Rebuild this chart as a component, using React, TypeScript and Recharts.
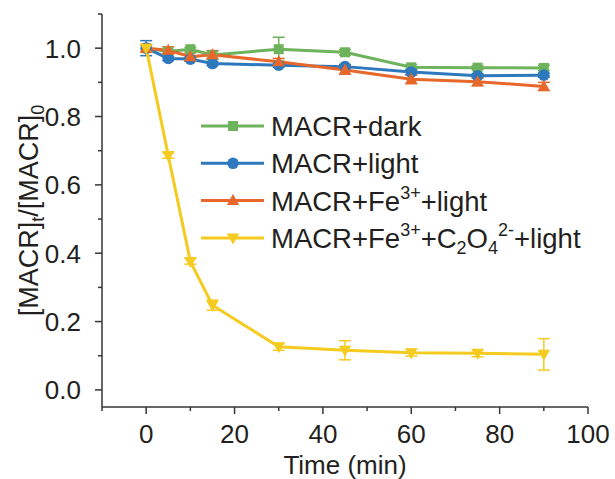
import React from 'react';
import { LineChart, Line, XAxis, YAxis, ErrorBar, Legend } from 'recharts';

const time = [0, 5, 10, 15, 30, 45, 60, 75, 90];
const dark = [1.0, 0.99, 0.997, 0.98, 0.997, 0.988, 0.944, 0.943, 0.942];
const darkErr = [0.01, 0.005, 0.005, 0.012, 0.035, 0.008, 0.008, 0.006, 0.008];
const light = [1.0, 0.97, 0.968, 0.955, 0.95, 0.946, 0.93, 0.919, 0.921];
const lightErr = [0.022, 0.006, 0.006, 0.006, 0.006, 0.006, 0.008, 0.006, 0.006];
const fe = [1.0, 0.994, 0.975, 0.981, 0.96, 0.936, 0.909, 0.902, 0.888];
const feErr = [0.01, 0.01, 0.012, 0.012, 0.01, 0.012, 0.013, 0.012, 0.012];
const feOx = [1.0, 0.686, 0.376, 0.248, 0.126, 0.116, 0.109, 0.107, 0.104];
const feOxErr = [0.01, 0.008, 0.008, 0.015, 0.01, 0.028, 0.01, 0.01, 0.046];

const xTicks = [-10, 0, 10, 20, 30, 40, 50, 60, 70, 80, 90, 100];
const yTicks = [0, 0.1, 0.2, 0.3, 0.4, 0.5, 0.6, 0.7, 0.8, 0.9, 1.0, 1.1];

const GREEN = '#6db35b';
const BLUE = '#2e78bd';
const ORANGE = '#e8672a';
const YELLOW = '#f5cb1f';
const INK = '#231f20';
const AXIS = '#3a3535';
const FONT = '"Liberation Sans", Arial, Helvetica, sans-serif';

const data = time.map((t, i) => ({
  t,
  dark: dark[i], darkErr: darkErr[i],
  light: light[i], lightErr: lightErr[i],
  fe: fe[i], feErr: feErr[i],
  feOx: feOx[i], feOxErr: feOxErr[i],
}));

type Shape = 'square' | 'circle' | 'tri' | 'itri';

const Marker = ({ cx, cy, shape, color }: { cx: number; cy: number; shape: Shape; color: string }) => {
  if (cx == null || cy == null) return null;
  if (shape === 'square') return <rect x={cx - 5} y={cy - 5} width={10} height={10} fill={color} />;
  if (shape === 'circle') return <circle cx={cx} cy={cy} r={5.8} fill={color} />;
  if (shape === 'tri')
    return <polygon points={`${cx},${cy - 6.5} ${cx + 6.2},${cy + 4.5} ${cx - 6.2},${cy + 4.5}`} fill={color} />;
  return <polygon points={`${cx},${cy + 6.5} ${cx + 6.2},${cy - 4.5} ${cx - 6.2},${cy - 4.5}`} fill={color} />;
};

const makeDot = (shape: Shape, color: string) => (p: any) => (
  <Marker key={`${shape}-${p.index}`} cx={p.cx} cy={p.cy} shape={shape} color={color} />
);

const SUP = 18;

const legendItems: { shape: Shape; color: string; label: React.ReactNode }[] = [
  { shape: 'square', color: GREEN, label: <tspan>MACR+dark</tspan> },
  { shape: 'circle', color: BLUE, label: <tspan>MACR+light</tspan> },
  {
    shape: 'tri',
    color: ORANGE,
    label: (
      <>
        <tspan>MACR+Fe</tspan>
        <tspan fontSize={SUP} dy={-12}>3+</tspan>
        <tspan dy={12}>+light</tspan>
      </>
    ),
  },
  {
    shape: 'itri',
    color: YELLOW,
    label: (
      <>
        <tspan>MACR+Fe</tspan>
        <tspan fontSize={SUP} dy={-12}>3+</tspan>
        <tspan dy={12}>+C</tspan>
        <tspan fontSize={SUP} dy={6}>2</tspan>
        <tspan dy={-6}>O</tspan>
        <tspan fontSize={SUP} dy={6}>4</tspan>
        <tspan fontSize={SUP} dy={-18}>2-</tspan>
        <tspan dy={12}>+light</tspan>
      </>
    ),
  },
];

const LegendContent = () => (
  <svg width={400} height={150} style={{ display: 'block', overflow: 'visible' }}>
    {legendItems.map((it, i) => {
      const cy = 21 + i * 37.3;
      return (
        <g key={i}>
          <line x1={6} x2={69} y1={cy} y2={cy} stroke={it.color} strokeWidth={3} />
          <Marker cx={38} cy={cy} shape={it.shape} color={it.color} />
          <text x={76} y={cy + 10} fontSize={27.5} fill={INK} fontFamily={FONT}>
            {it.label}
          </text>
        </g>
      );
    })}
  </svg>
);

const XTick = (p: any) => {
  const v = p.payload.value;
  const major = v >= 0 && v % 20 === 0;
  return (
    <g>
      <line x1={p.x} x2={p.x} y1={p.y} y2={p.y + (major ? 7 : 4)} stroke={AXIS} strokeWidth={1.5} />
      {major && (
        <text x={p.x} y={p.y + 36} textAnchor="middle" fontSize={26} fill={INK} fontFamily={FONT}>
          {v}
        </text>
      )}
    </g>
  );
};

const YTick = (p: any) => {
  const v = p.payload.value;
  const k = Math.round(v * 10);
  const major = k % 2 === 0 && k <= 10;
  return (
    <g>
      <line x1={p.x} x2={p.x - (major ? 7 : 4)} y1={p.y} y2={p.y} stroke={AXIS} strokeWidth={1.5} />
      {major && (
        <text x={p.x - 21} y={p.y + 9.5} textAnchor="end" fontSize={26} fill={INK} fontFamily={FONT}>
          {v.toFixed(1)}
        </text>
      )}
    </g>
  );
};

const YLabel = (p: any) => {
  const vb = p.viewBox || {};
  const cx = (vb.x || 0) + 38;
  const cy = (vb.y || 0) + (vb.height || 0) / 2;
  return (
    <text
      x={cx}
      y={cy}
      textAnchor="middle"
      transform={`rotate(-90, ${cx}, ${cy})`}
      fontSize={27}
      fill={INK}
      fontFamily={FONT}
    >
      <tspan>[MACR]</tspan>
      <tspan fontSize={SUP} dy={6}>t</tspan>
      <tspan dy={-6}>/[MACR]</tspan>
      <tspan fontSize={SUP} dy={6}>0</tspan>
    </text>
  );
};

const XLabel = (p: any) => {
  const vb = p.viewBox || {};
  const cx = (vb.x || 0) + (vb.width || 0) / 2;
  const cy = (vb.y || 0) + 67;
  return (
    <text x={cx} y={cy} textAnchor="middle" fontSize={26} fill={INK} fontFamily={FONT}>
      Time (min)
    </text>
  );
};

export default function App() {
  return (
    <div style={{ position: 'absolute', left: 0, top: 0, width: 615, height: 479, background: '#fff' }}>
      <LineChart width={615} height={479} data={data} margin={{ top: 14, right: 27, left: 0, bottom: 0 }}>
        <XAxis
          dataKey="t"
          type="number"
          domain={[-10, 100]}
          ticks={xTicks}
          interval={0}
          allowDataOverflow
          height={72}
          tickLine={false}
          tickSize={0}
          tickMargin={0}
          tick={XTick}
          axisLine={{ stroke: AXIS, strokeWidth: 1.5 }}
          label={{ content: XLabel }}
        />
        <XAxis
          xAxisId="top"
          orientation="top"
          dataKey="t"
          type="number"
          domain={[-10, 100]}
          height={0}
          tick={false}
          tickLine={false}
          axisLine={{ stroke: AXIS, strokeWidth: 1.5 }}
        />
        <YAxis
          type="number"
          domain={[-0.05, 1.1]}
          ticks={yTicks}
          interval={0}
          allowDataOverflow
          width={102}
          tickLine={false}
          tickSize={0}
          tickMargin={0}
          tick={YTick}
          axisLine={{ stroke: AXIS, strokeWidth: 1.5 }}
          label={{ content: YLabel }}
        />
        <YAxis
          yAxisId="right"
          orientation="right"
          type="number"
          domain={[-0.05, 1.1]}
          width={0}
          tick={false}
          tickLine={false}
          axisLine={{ stroke: AXIS, strokeWidth: 1.5 }}
        />
        <Legend
          layout="vertical"
          align="center"
          verticalAlign="middle"
          content={LegendContent}
          wrapperStyle={{ left: 195, top: 105, width: 400, height: 150 }}
        />
        <Line dataKey="dark" stroke={GREEN} strokeWidth={3} isAnimationActive={false} dot={makeDot('square', GREEN)} activeDot={false}>
          <ErrorBar dataKey="darkErr" width={6} stroke={GREEN} strokeWidth={1.5} direction="y" isAnimationActive={false} />
        </Line>
        <Line dataKey="light" stroke={BLUE} strokeWidth={3} isAnimationActive={false} dot={makeDot('circle', BLUE)} activeDot={false}>
          <ErrorBar dataKey="lightErr" width={6} stroke={BLUE} strokeWidth={1.5} direction="y" isAnimationActive={false} />
        </Line>
        <Line dataKey="fe" stroke={ORANGE} strokeWidth={3} isAnimationActive={false} dot={makeDot('tri', ORANGE)} activeDot={false}>
          <ErrorBar dataKey="feErr" width={6} stroke={ORANGE} strokeWidth={1.5} direction="y" isAnimationActive={false} />
        </Line>
        <Line dataKey="feOx" stroke={YELLOW} strokeWidth={3} isAnimationActive={false} dot={makeDot('itri', YELLOW)} activeDot={false}>
          <ErrorBar dataKey="feOxErr" width={6} stroke={YELLOW} strokeWidth={1.5} direction="y" isAnimationActive={false} />
        </Line>
      </LineChart>
    </div>
  );
}
